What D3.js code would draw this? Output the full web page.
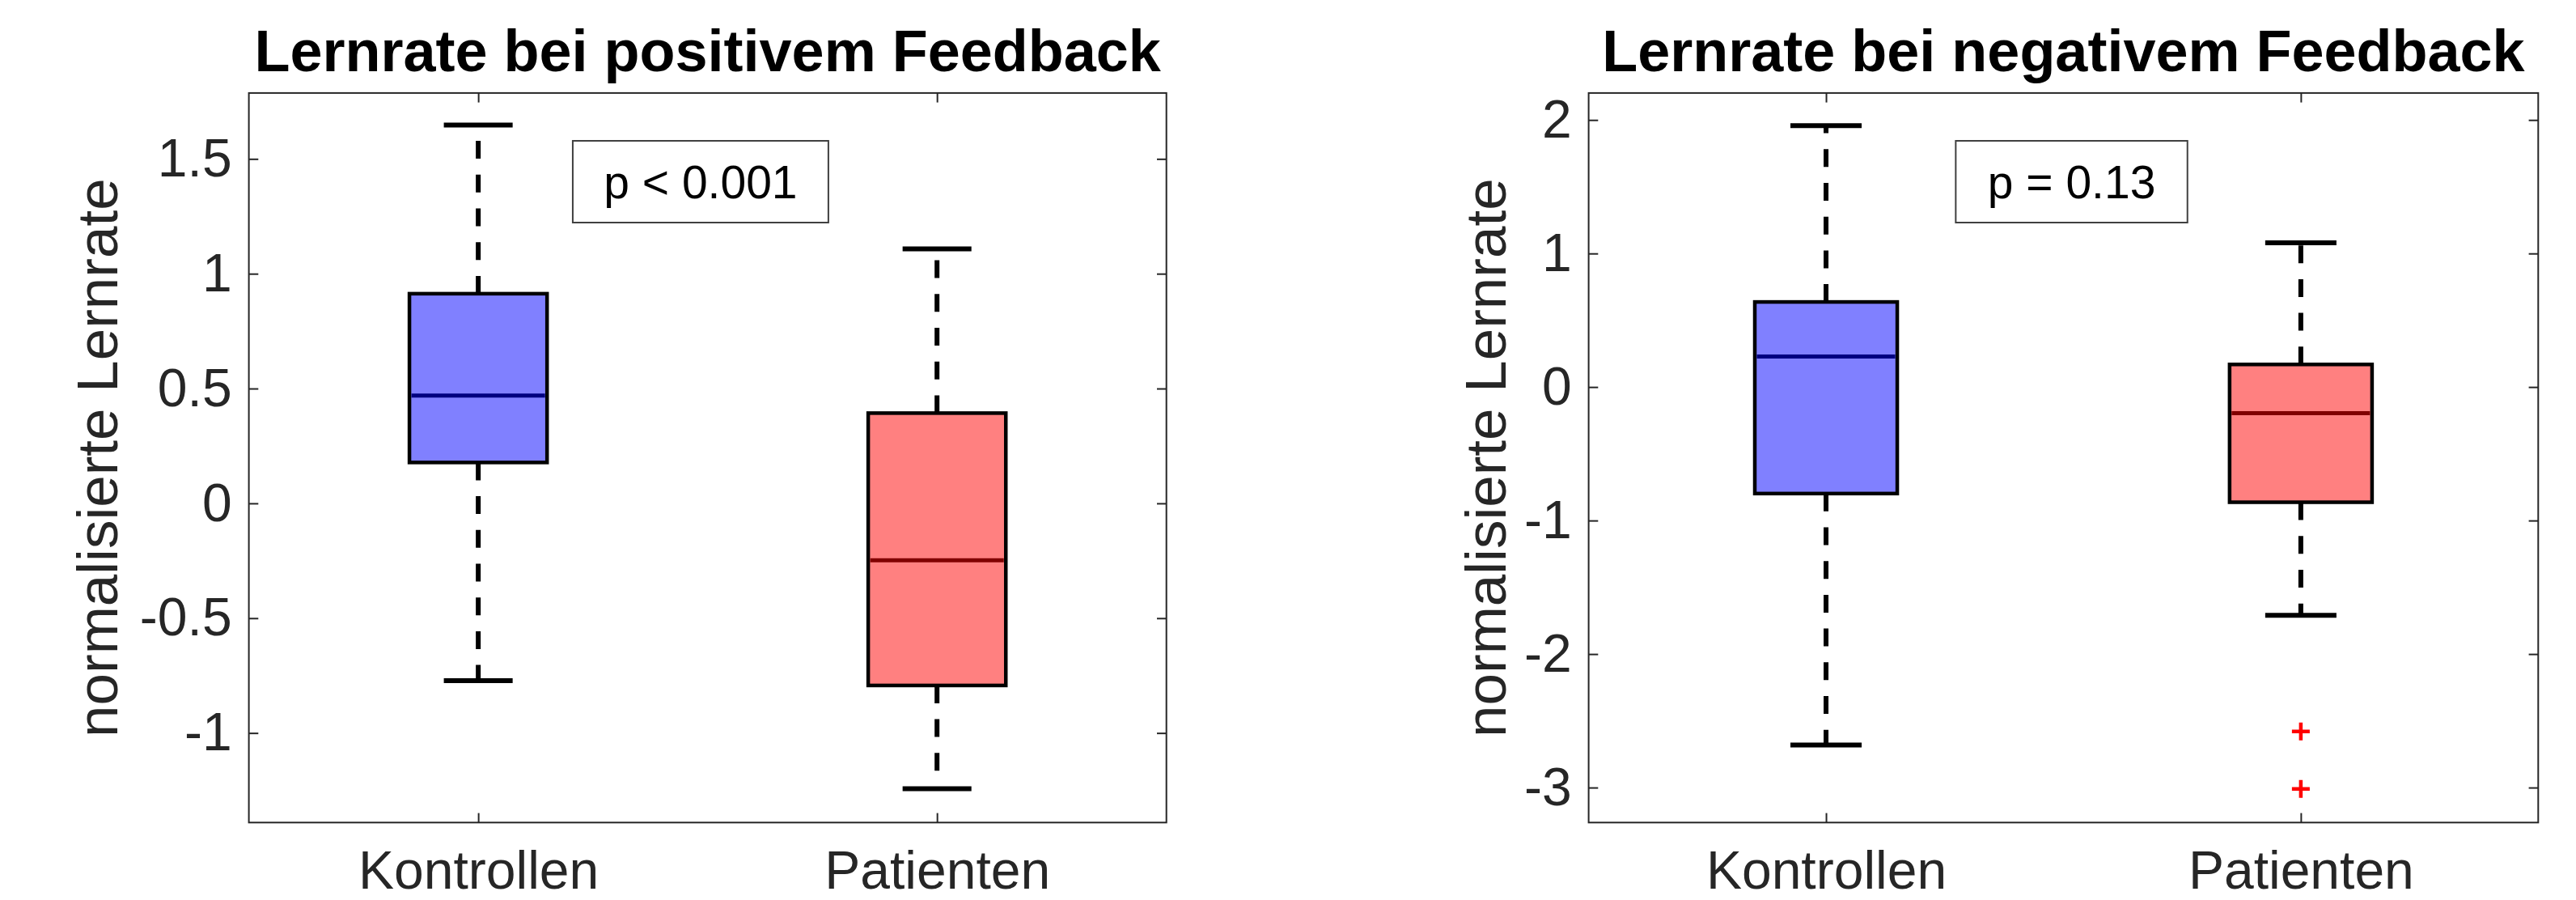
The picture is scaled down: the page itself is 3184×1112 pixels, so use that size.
<!DOCTYPE html>
<html>
	<head>
		<meta charset="utf-8">
		<title>Lernrate</title>
		<style>
		body {
			margin: 0;
			background: #fff;
		}

		svg {
			display: block;
			font-family: "Liberation Sans", Arial, sans-serif;
		}

		.axis text {
			fill: #262626;
		}
		</style>
		<script src="https://d3js.org/d3.v7.min.js"></script>
	</head>
	<body>
		<svg id="chart" width="3184" height="1112"></svg>

		<script>
		// data
		var groups = ['Kontrollen', 'Patienten'];
		var boxColors = ['#8080ff', '#ff8080'];
		var medianColors = ['#000080', '#800000'];

		var posLower	= [-0.772, -1.243],
			posQ1	= [0.178, -0.793],
			posMedian	= [0.469, -0.248],
			posQ3	= [0.913, 0.393],
			posUpper	= [1.647, 1.108],
			posOutliers	= [[], []];

		var negLower	= [-2.681, -1.710],
			negQ1	= [-0.798, -0.863],
			negMedian	= [0.229, -0.196],
			negQ3	= [0.637, 0.169],
			negUpper	= [1.957, 1.080],
			negOutliers	= [[], [-2.58, -3.01]];

		var posTicks = [-1, -0.5, 0, 0.5, 1, 1.5];
		var negTicks = [-3, -2, -1, 0, 1, 2];

		var posDomain = [-1.39, 1.787];
		var negDomain = [-3.262, 2.202];

		var titles = ['Lernrate bei positivem Feedback', 'Lernrate bei negativem Feedback'];
		var pLabels = ['p < 0.001', 'p = 0.13'];
		var yLabel = 'normalisierte Lernrate';

		var panels = [
			{
				x0: 307.6, x1: 1441.7, labelX: 145,
				pBox: [0.353, 0.2786],
				lower: posLower, q1: posQ1, median: posMedian, q3: posQ3, upper: posUpper,
				outliers: posOutliers, ticks: posTicks, domain: posDomain,
				title: titles[0], p: pLabels[0]
			},
			{
				x0: 1963.6, x1: 3137.3, labelX: 1861,
				pBox: [0.3866, 0.244],
				lower: negLower, q1: negQ1, median: negMedian, q3: negQ3, upper: negUpper,
				outliers: negOutliers, ticks: negTicks, domain: negDomain,
				title: titles[1], p: pLabels[1]
			}
		];

		var axTop = 114.9, axBottom = 1016.3, tickLen = 11.7;
		var svg = d3.select('#chart');

		function drawPanel (cfg) {
			var g = svg.append('g'),
				xScale = d3.scaleLinear().domain([0.5, 2.5]).range([cfg.x0, cfg.x1]),
				yScale = d3.scaleLinear().domain(cfg.domain).range([axBottom, axTop]),
				unit = xScale(2) - xScale(1),
				boxW = 0.3 * unit,
				capW = 0.15 * unit;

			// axes ticks
			var left = d3.axisLeft(yScale).tickValues(cfg.ticks).tickSizeInner(-tickLen).tickSizeOuter(0)
				.tickPadding(21).tickFormat(function (d) { return String(d); });
			var right = d3.axisRight(yScale).tickValues(cfg.ticks).tickSizeInner(-tickLen).tickSizeOuter(0)
				.tickFormat('');
			var bottomAx = d3.axisBottom(xScale).tickValues([1, 2]).tickSizeInner(-tickLen).tickSizeOuter(0)
				.tickPadding(35).tickFormat(function (d) { return groups[d - 1]; });
			var topAx = d3.axisTop(xScale).tickValues([1, 2]).tickSizeInner(-tickLen).tickSizeOuter(0)
				.tickFormat('');

			g.append('g').attr('class', 'axis').attr('transform', 'translate(' + cfg.x0 + ',0)').call(left);
			g.append('g').attr('class', 'axis').attr('transform', 'translate(' + cfg.x1 + ',0)').call(right);
			g.append('g').attr('class', 'axis').attr('transform', 'translate(0,' + axBottom + ')').call(bottomAx);
			g.append('g').attr('class', 'axis').attr('transform', 'translate(0,' + axTop + ')').call(topAx);

			g.selectAll('.axis').style('color', '#262626');
			g.selectAll('.axis .domain').remove();
			g.selectAll('.axis line').attr('stroke-width', 2);
			g.selectAll('.axis text').attr('font-size', 66).attr('font-family', null);

			g.append('rect')
				.attr('x', cfg.x0).attr('y', axTop)
				.attr('width', cfg.x1 - cfg.x0).attr('height', axBottom - axTop)
				.attr('fill', 'none').attr('stroke', '#262626').attr('stroke-width', 2);

			var idx = d3.range(groups.length);

			// whiskers
			g.selectAll('.wup').data(idx).enter().append('line')
				.attr('x1', function (i) { return xScale(i + 1); })
				.attr('x2', function (i) { return xScale(i + 1); })
				.attr('y1', function (i) { return yScale(cfg.q3[i]); })
				.attr('y2', function (i) { return yScale(cfg.upper[i]); })
				.attr('stroke', '#000').attr('stroke-width', 6).attr('stroke-dasharray', '22 19.7');

			g.selectAll('.wlo').data(idx).enter().append('line')
				.attr('x1', function (i) { return xScale(i + 1); })
				.attr('x2', function (i) { return xScale(i + 1); })
				.attr('y1', function (i) { return yScale(cfg.q1[i]); })
				.attr('y2', function (i) { return yScale(cfg.lower[i]); })
				.attr('stroke', '#000').attr('stroke-width', 6).attr('stroke-dasharray', '22 19.7');

			// caps
			[cfg.upper, cfg.lower].forEach(function (arr) {
				g.selectAll(null).data(idx).enter().append('line')
					.attr('x1', function (i) { return xScale(i + 1) - capW / 2; })
					.attr('x2', function (i) { return xScale(i + 1) + capW / 2; })
					.attr('y1', function (i) { return yScale(arr[i]); })
					.attr('y2', function (i) { return yScale(arr[i]); })
					.attr('stroke', '#000').attr('stroke-width', 6);
			});

			// boxes
			g.selectAll('.box').data(idx).enter().append('rect')
				.attr('x', function (i) { return xScale(i + 1) - boxW / 2; })
				.attr('y', function (i) { return yScale(cfg.q3[i]); })
				.attr('width', boxW)
				.attr('height', function (i) { return yScale(cfg.q1[i]) - yScale(cfg.q3[i]); })
				.attr('fill', function (i) { return boxColors[i]; })
				.attr('stroke', '#000').attr('stroke-width', 4.5);

			// medians
			g.selectAll('.med').data(idx).enter().append('line')
				.attr('x1', function (i) { return xScale(i + 1) - boxW / 2 + 2.5; })
				.attr('x2', function (i) { return xScale(i + 1) + boxW / 2 - 2.5; })
				.attr('y1', function (i) { return yScale(cfg.median[i]); })
				.attr('y2', function (i) { return yScale(cfg.median[i]); })
				.attr('stroke', function (i) { return medianColors[i]; })
				.attr('stroke-width', 5);

			// outliers
			var pts = [];
			cfg.outliers.forEach(function (arr, i) {
				arr.forEach(function (v) { pts.push({ i: i, v: v }); });
			});
			var plus = g.selectAll('.out').data(pts).enter().append('g')
				.attr('transform', function (d) { return 'translate(' + xScale(d.i + 1) + ',' + yScale(d.v) + ')'; });
			plus.append('path')
				.attr('d', 'M-11,0H11M0,-11V11')
				.attr('stroke', '#ff0000').attr('stroke-width', 4.5);

			// p-value box
			var bx = cfg.x0 + cfg.pBox[0] * (cfg.x1 - cfg.x0),
				bw = cfg.pBox[1] * (cfg.x1 - cfg.x0);
			g.append('rect')
				.attr('x', bx).attr('y', 174)
				.attr('width', bw).attr('height', 101)
				.attr('fill', '#fff').attr('stroke', '#404040').attr('stroke-width', 2);
			g.append('text')
				.attr('x', bx + bw / 2).attr('y', 245)
				.attr('text-anchor', 'middle')
				.attr('font-size', 57)
				.attr('fill', '#000')
				.text(cfg.p);

			// title
			g.append('text')
				.attr('x', (cfg.x0 + cfg.x1) / 2).attr('y', 88)
				.attr('text-anchor', 'middle')
				.attr('font-size', 72).attr('font-weight', 'bold')
				.attr('fill', '#000')
				.text(cfg.title);

			// y label
			g.append('text')
				.attr('transform', 'translate(' + cfg.labelX + ',' + ((axTop + axBottom) / 2) + ') rotate(-90)')
				.attr('text-anchor', 'middle')
				.attr('font-size', 71)
				.attr('fill', '#262626')
				.text(yLabel);
		}

		panels.forEach(drawPanel);
		</script>
	</body>
</html>
